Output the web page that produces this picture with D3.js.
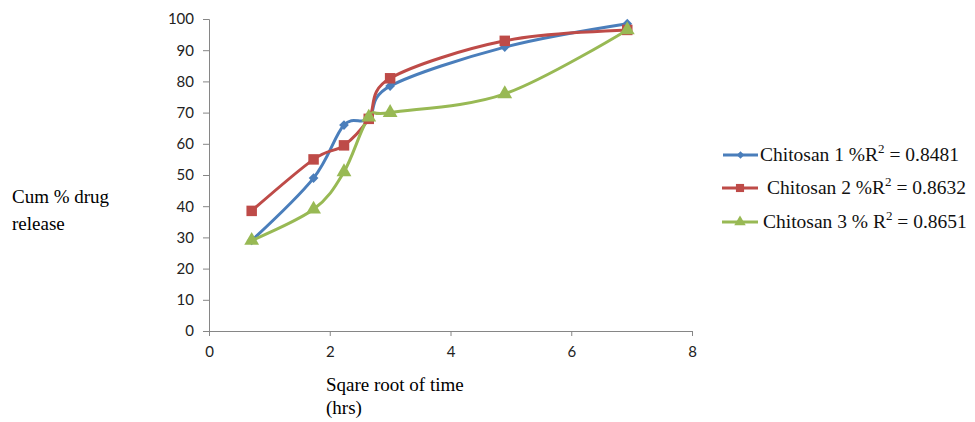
<!DOCTYPE html>
<html><head><meta charset="utf-8">
<script src="https://cdn.jsdelivr.net/npm/d3@7"></script>
<style>body{margin:0;background:#fff}</style>
</head><body>
<svg id="c" width="975" height="422"></svg>
<script>
const xValues = [0.707, 1.732, 2.236, 2.646, 3.0, 4.899, 6.928];
const chitosan1 = [29, 49, 66, 68, 78.5, 91, 98.5];
const chitosan2 = [38.5, 55, 59.5, 68, 81, 93, 96.5];
const chitosan3 = [29, 39, 51, 68.5, 70, 76, 96.5];
const seriesNames = ["Chitosan 1 %R", "Chitosan 2 %R", "Chitosan 3 % R"];
const seriesR2 = ["0.8481", "0.8632", "0.8651"];
const yTicks = [0,10,20,30,40,50,60,70,80,90,100];
const xTicks = [0,2,4,6,8];

const colors = ["#4A7EBB", "#BE4B48", "#98B954"];
const symbols = [d3.symbolDiamond2, d3.symbolSquare, d3.symbolTriangle];
const symSizes = [60, 110, 95];

const svg = d3.select("#c");
const x = d3.scaleLinear().domain([0, 8]).range([209, 692]);
const y = d3.scaleLinear().domain([0, 100]).range([331, 19]);

const axisColor = "#868686";
const yAxis = svg.append("g").attr("transform","translate(209,0)")
  .call(d3.axisLeft(y).tickValues(yTicks).tickSize(6).tickPadding(9).tickFormat(d3.format("d")));
const xAxis = svg.append("g").attr("transform","translate(0,331)")
  .call(d3.axisBottom(x).tickValues(xTicks).tickSize(5).tickPadding(10).tickFormat(d3.format("d")));
[yAxis, xAxis].forEach(a => {
  a.selectAll("path,line").attr("stroke", axisColor).attr("stroke-width", 1);
  a.selectAll("text").attr("fill","#222").style("font-family","Lato, 'Open Sans', sans-serif").style("font-size","15px");
});

const data = [chitosan1, chitosan2, chitosan3];
const line = d3.line().x(d => x(d[0])).y(d => y(d[1])).curve(d3.curveCardinal.tension(0));
data.forEach((vals, i) => {
  const pts = xValues.map((xv, j) => [xv, vals[j]]);
  svg.append("path").datum(pts).attr("d", line).attr("fill","none")
    .attr("stroke", colors[i]).attr("stroke-width", 3);
});
data.forEach((vals, i) => {
  const pts = xValues.map((xv, j) => [xv, vals[j]]);
  svg.append("g").selectAll("path").data(pts).join("path")
    .attr("transform", d => `translate(${x(d[0])},${y(d[1])})`)
    .attr("d", d3.symbol().type(symbols[i]).size(symSizes[i]))
    .attr("fill", colors[i]);
});

// legend
const legY = [155, 188, 222];
const legX0 = [723, 722, 722];
const legTx = [760, 767, 763];
seriesNames.forEach((n, i) => {
  const g = svg.append("g");
  g.append("line").attr("x1", legX0[i]).attr("x2", 758).attr("y1", legY[i]).attr("y2", legY[i])
    .attr("stroke", colors[i]).attr("stroke-width", 3);
  g.append("path").attr("transform", `translate(${(legX0[i]+758)/2},${legY[i]})`)
    .attr("d", d3.symbol().type(symbols[i]).size(symSizes[i]*0.6)).attr("fill", colors[i]);
  const t = g.append("text").attr("x", legTx[i]).attr("y", legY[i]+6)
    .style("font-family","'Liberation Serif', serif").style("font-size","19.5px").attr("fill","#111");
  t.append("tspan").text(n);
  t.append("tspan").attr("dy", -8).style("font-size","13px").text("2");
  t.append("tspan").attr("dy", 8).text(" = " + seriesR2[i]);
});

// axis titles
const serif = "'Liberation Serif', serif";
const tfs = "19px";
svg.append("text").attr("x", 12).attr("y", 203).style("font-family", serif).style("font-size",tfs).text("Cum % drug");
svg.append("text").attr("x", 12).attr("y", 230).style("font-family", serif).style("font-size",tfs).text("release");
svg.append("text").attr("x", 326).attr("y", 391).style("font-family", serif).style("font-size",tfs).text("Sqare root of time");
svg.append("text").attr("x", 326).attr("y", 414).style("font-family", serif).style("font-size",tfs).text("(hrs)");
</script>
</body></html>
